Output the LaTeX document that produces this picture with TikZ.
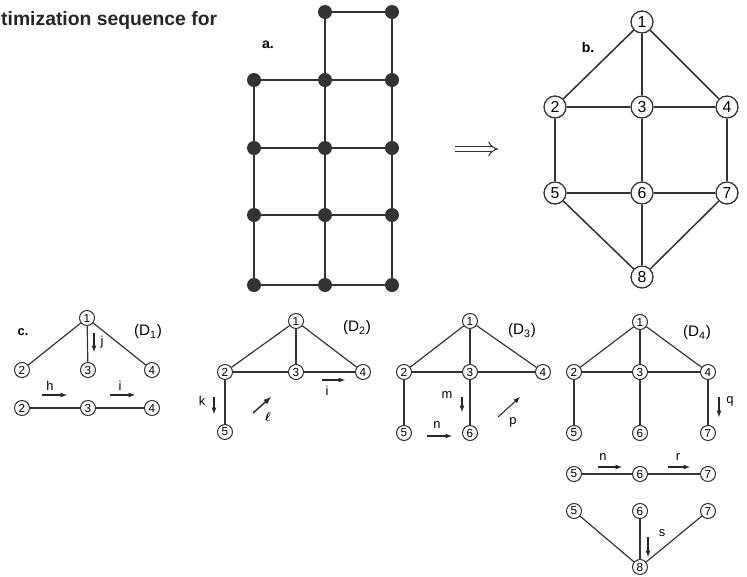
\documentclass[tikz,border=0pt]{standalone}
\usepackage{fontspec}
\setmainfont{Liberation Sans}
\usepackage{amsmath}
\usepackage{amssymb}
\usetikzlibrary{arrows.meta}

\tikzset{
  dot/.style={circle,fill=black!80,inner sep=0pt,minimum size=0.42cm},
  bignum/.style={circle,draw=black!80,line width=1.1pt,inner sep=0pt,minimum size=0.66cm,
    font=\fontsize{13.5}{13.5}\selectfont},
  num/.style={circle,draw=black!80,line width=0.9pt,inner sep=0pt,minimum size=0.45cm,
    font=\fontsize{10}{10}\selectfont},
  lbl/.style={font=\fontsize{11}{11}\selectfont},
  mv/.style={->,>=latex,line width=0.9pt,black!85},
}

\begin{document}
\begin{tikzpicture}[x=0.03cm,y=-0.03cm]
  \useasboundingbox (0,0) rectangle (747,576);
  \node[anchor=base west,inner sep=0pt,font=\bfseries\fontsize{16.5}{16.5}\selectfont,black!85]
    (title) at (1,25) {timization sequence for};

  % a. the grid
  \node[font=\bfseries\fontsize{12}{12}\selectfont] (la) at (268,45) {a.};
  \node[dot] (a11) at (325,12) {};
  \node[dot] (a12) at (392,12) {};
  \node[dot] (a21) at (254,80) {};
  \node[dot] (a22) at (325,80) {};
  \node[dot] (a23) at (392,80) {};
  \node[dot] (a31) at (254,148) {};
  \node[dot] (a32) at (325,148) {};
  \node[dot] (a33) at (392,148) {};
  \node[dot] (a41) at (254,215) {};
  \node[dot] (a42) at (325,215) {};
  \node[dot] (a43) at (392,215) {};
  \node[dot] (a51) at (254,285) {};
  \node[dot] (a52) at (325,285) {};
  \node[dot] (a53) at (392,285) {};
  \draw[line width=1.6pt,black!80] (a11) -- (a12);
  \draw[line width=1.6pt,black!80] (a21) -- (a22) -- (a23);
  \draw[line width=1.6pt,black!80] (a31) -- (a32) -- (a33);
  \draw[line width=1.6pt,black!80] (a41) -- (a42) -- (a43);
  \draw[line width=1.6pt,black!80] (a51) -- (a52) -- (a53);
  \draw[line width=1.6pt,black!80] (a21) -- (a31) -- (a41) -- (a51);
  \draw[line width=1.6pt,black!80] (a11) -- (a22) -- (a32) -- (a42) -- (a52);
  \draw[line width=1.6pt,black!80] (a12) -- (a23) -- (a33) -- (a43) -- (a53);

  \coordinate (implA) at (455,149);
  \coordinate (implB) at (498,149);
  \draw[black!80,line width=0.9pt,double,double distance=3.5pt,-{Implies}] (implA) -- (implB);

  % b. the graph
  \node[font=\bfseries\fontsize{12}{12}\selectfont] (lb) at (588,47) {b.};
  \node[bignum] (b1) at (642,22) {1};
  \node[bignum] (b2) at (555,107) {2};
  \node[bignum] (b3) at (642,107) {3};
  \node[bignum] (b4) at (727,107) {4};
  \node[bignum] (b5) at (555,193) {5};
  \node[bignum] (b6) at (642,193) {6};
  \node[bignum] (b7) at (727,193) {7};
  \node[bignum] (b8) at (642,277) {8};
  \draw[line width=1.3pt,black!80] (b1) -- (b2);
  \draw[line width=1.3pt,black!80] (b1) -- (b3);
  \draw[line width=1.3pt,black!80] (b1) -- (b4);
  \draw[line width=1.3pt,black!80] (b2) -- (b3) -- (b4);
  \draw[line width=1.3pt,black!80] (b5) -- (b6) -- (b7);
  \draw[line width=1.3pt,black!80] (b2) -- (b5);
  \draw[line width=1.3pt,black!80] (b3) -- (b6);
  \draw[line width=1.3pt,black!80] (b4) -- (b7);
  \draw[line width=1.3pt,black!80] (b5) -- (b8);
  \draw[line width=1.3pt,black!80] (b6) -- (b8);
  \draw[line width=1.3pt,black!80] (b7) -- (b8);

  % c. D1
  \node[font=\bfseries\fontsize{11}{11}\selectfont] (lc) at (23,332) {c.};
  \node[font=\fontsize{13}{13}\selectfont] (dA) at (148,332) {(D\textsubscript{1})};
  \node[num] (c1) at (87,318) {1};
  \node[num] (c2) at (22,370) {2};
  \node[num] (c3) at (88,370) {3};
  \node[num] (c4) at (152,370) {4};
  \draw[line width=1pt,black!80] (c1) -- (c2);
  \draw[line width=1pt,black!80] (c1) -- (c3);
  \draw[line width=1pt,black!80] (c1) -- (c4);
  \draw[mv] (94,333) -- (94,352);
  \node[lbl] (lj) at (102,342) {j};
  \node[num] (e2) at (22,408) {2};
  \node[num] (e3) at (88,408) {3};
  \node[num] (e4) at (152,408) {4};
  \draw[line width=1pt,black!80] (e2) -- (e3) -- (e4);
  \draw[mv] (42,395) -- (67,395);
  \node[lbl] (lh) at (50,386) {h};
  \draw[mv] (110,395) -- (135,395);
  \node[lbl] (li) at (120,386) {i};

  % D2
  \node[font=\fontsize{13}{13}\selectfont] (dB) at (357,328) {(D\textsubscript{2})};
  \node[num] (d1) at (296,321) {1};
  \node[num] (d2) at (225,372) {2};
  \node[num] (d3) at (296,372) {3};
  \node[num] (d4) at (363,372) {4};
  \node[num] (d5) at (225,432) {5};
  \draw[line width=1pt,black!80] (d1) -- (d2);
  \draw[line width=1pt,black!80] (d1) -- (d3);
  \draw[line width=1pt,black!80] (d1) -- (d4);
  \draw[line width=1pt,black!80] (d2) -- (d3) -- (d4);
  \draw[line width=1pt,black!80] (d2) -- (d5);
  \draw[mv] (214,397) -- (214,414);
  \node[lbl] (lk) at (202,401) {k};
  \draw[mv,line width=1.2pt] (253,413) -- (271,397);
  \node[lbl] (ll) at (268,417) {$\boldsymbol{\ell}$};
  \draw[mv] (322,380) -- (345,380);
  \node[lbl] (li2) at (327,391) {i};

  % D3
  \node[font=\fontsize{13}{13}\selectfont] (dC) at (522,331) {(D\textsubscript{3})};
  \node[num] (f1) at (470,321) {1};
  \node[num] (f2) at (404,372) {2};
  \node[num] (f3) at (470,372) {3};
  \node[num] (f4) at (543,372) {4};
  \node[num] (f5) at (404,433) {5};
  \node[num] (f6) at (470,433) {6};
  \draw[line width=1pt,black!80] (f1) -- (f2);
  \draw[line width=1pt,black!80] (f1) -- (f3);
  \draw[line width=1pt,black!80] (f1) -- (f4);
  \draw[line width=1pt,black!80] (f2) -- (f3) -- (f4);
  \draw[line width=1pt,black!80] (f2) -- (f5);
  \draw[line width=1pt,black!80] (f3) -- (f6);
  \draw[mv] (462,397) -- (462,412);
  \node[lbl] (lm) at (447,395) {m};
  \draw[mv] (427,436) -- (452,436);
  \node[lbl] (ln) at (437,425) {n};
  \draw[mv] (498,417) -- (520,397);
  \node[lbl] (lp) at (513,422) {p};

  % D4
  \node[font=\fontsize{13}{13}\selectfont] (dD) at (697,333) {(D\textsubscript{4})};
  \node[num] (g1) at (640,322) {1};
  \node[num] (g2) at (574,372) {2};
  \node[num] (g3) at (640,372) {3};
  \node[num] (g4) at (708,372) {4};
  \node[num] (g5) at (574,433) {5};
  \node[num] (g6) at (640,433) {6};
  \node[num] (g7) at (708,433) {7};
  \draw[line width=1pt,black!80] (g1) -- (g2);
  \draw[line width=1pt,black!80] (g1) -- (g3);
  \draw[line width=1pt,black!80] (g1) -- (g4);
  \draw[line width=1pt,black!80] (g2) -- (g3) -- (g4);
  \draw[line width=1pt,black!80] (g2) -- (g5);
  \draw[line width=1pt,black!80] (g3) -- (g6);
  \draw[line width=1pt,black!80] (g4) -- (g7);
  \draw[mv] (719,397) -- (719,417);
  \node[lbl] (lq) at (730,401) {q};
  \node[num] (h5) at (574,474) {5};
  \node[num] (h6) at (640,474) {6};
  \node[num] (h7) at (708,474) {7};
  \draw[line width=1pt,black!80] (h5) -- (h6) -- (h7);
  \draw[mv] (598,467) -- (622,467);
  \node[lbl] (ln2) at (603,457) {n};
  \draw[mv] (668,467) -- (690,467);
  \node[lbl] (lr) at (678,457) {r};
  \node[num] (k5) at (574,511) {5};
  \node[num] (k6) at (640,511) {6};
  \node[num] (k7) at (708,511) {7};
  \node[num] (k8) at (640,567) {8};
  \draw[line width=1pt,black!80] (k5) -- (k8);
  \draw[line width=1pt,black!80] (k6) -- (k8);
  \draw[line width=1pt,black!80] (k7) -- (k8);
  \draw[mv] (648,537) -- (648,557);
  \node[lbl] (ls) at (662,533) {s};
\end{tikzpicture}
\end{document}
